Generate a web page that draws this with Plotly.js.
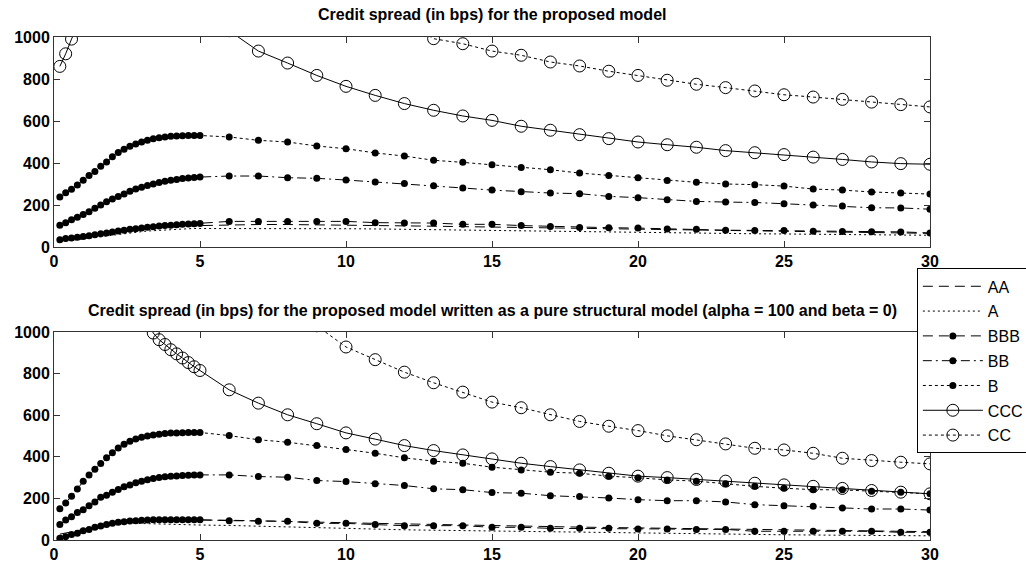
<!DOCTYPE html>
<html>
<head>
<meta charset="utf-8">
<script src="https://cdn.plot.ly/plotly-3.0.1.min.js"></script>
<style>
  html, body { margin: 0; padding: 0; background: #fff; }
  #chart { width: 1026px; height: 564px; }
</style>
</head>
<body>
<div id="chart"></div>
<script>
// Maturity grid (years): 0.2-year steps up to 5, then yearly to 30
const maturity = [0.2,0.4,0.6,0.8,1.0,1.2,1.4,1.6,1.8,2.0,2.2,2.4,2.6,2.8,3.0,3.2,3.4,3.6,3.8,4.0,4.2,4.4,4.6,4.8,5.0,
  6,7,8,9,10,11,12,13,14,15,16,17,18,19,20,21,22,23,24,25,26,27,28,29,30];

const ratings = ["AA", "A", "BBB", "BB", "B", "CCC", "CC"];

// Credit spreads (bps), proposed model
const propAA  = [30,34,38,42,46,50,54,58,62,66,70,74,78,81,84,87,90,92,94,96,98,99,100,101,102,
  106,107,107,106,105,103,101,99,97,95,93,91,89,87,85,83,81,79,77,75,73,71,69,67,65];
const propA   = [25,28,31,34,37,41,44,48,52,56,60,64,67,70,73,76,78,80,82,84,85,86,87,88,88,
  90,90,89,88,87,86,84,82,80,78,76,74,72,71,69,67,66,64,63,62,60,59,58,57,56];
const propBBB = [35,40,43,46,50,54,58,63,67,71,76,80,84,87,90,94,97,100,102,104,106,108,110,111,112,
  122,122,121,121,122,116,114,114,108,108,102,98,93,92,90,86,84,80,79,78,75,74,73,72,67];
const propBB  = [103,115,130,142,155,168,185,200,215,228,240,252,265,276,285,293,300,307,313,318,322,326,329,331,333,
  338,338,330,327,319,310,302,292,281,271,263,257,254,241,235,225,217,214,212,206,200,195,187,186,180];
const propB   = [238,258,275,295,318,340,360,385,405,430,450,465,480,490,500,508,515,520,524,527,529,530,531,531,531,
  524,508,500,481,468,448,433,413,403,392,378,368,352,341,330,317,308,300,297,290,276,271,262,257,252];
const propCCC = [860,920,990,1060,1120,1170,1210,1245,1270,1290,1305,1315,1320,1320,1315,1305,1295,1280,1265,1250,1235,1215,1195,1175,1155,
  1030,933,876,817,765,722,683,651,624,603,575,556,535,516,500,487,475,459,449,440,428,417,405,397,394];
const propCC  = [1300,1380,1460,1530,1590,1650,1700,1740,1780,1810,1840,1860,1880,1890,1900,1905,1905,1900,1895,1885,1875,1860,1845,1830,1810,
  1700,1550,1420,1310,1220,1150,1080,992,968,933,913,881,862,837,817,794,775,759,743,725,714,703,690,678,667];

// Credit spreads (bps), pure structural version (alpha = 100, beta = 0)
const structAA  = [28,33,38,44,50,56,62,68,74,79,84,88,91,93,95,96,97,97,97,97,97,97,97,97,97,
  95,92,90,86,83,80,77,74,71,68,66,64,62,60,58,56,54,52,50,48,47,46,44,42,40];
const structA   = [20,26,32,38,44,50,56,62,67,72,76,79,80,80,79,78,78,77,76,76,75,74,74,73,72,
  70,66,62,58,55,52,49,47,45,42,40,38,36,34,32,31,29,28,27,25,24,23,22,21,20];
const structBBB = [8,16,26,32,45,51,61,67,74,80,85,88,91,93,95,96,97,97,97,97,97,97,97,97,97,
  93,90,90,80,80,74,69,69,69,61,61,56,56,56,53,53,51,51,42,42,42,42,42,37,37];
const structBB  = [74,96,112,132,145,165,183,205,215,230,243,256,265,275,283,290,296,300,304,306,308,310,311,312,313,
  313,305,302,286,281,270,262,246,242,228,225,213,209,202,194,189,189,183,170,165,162,154,149,149,144];
const structB   = [150,178,210,245,282,312,340,368,395,420,442,460,475,486,494,500,505,509,512,514,515,516,517,517,517,
  502,482,470,454,435,417,395,379,369,350,337,326,321,307,299,289,283,270,258,249,242,241,234,230,222];
const structCCC = [2600,2450,2300,2150,2010,1890,1780,1680,1590,1500,1420,1340,1270,1200,1130,1060,995,963,940,915,895,875,853,833,815,
  722,658,602,559,515,485,454,430,409,390,369,353,337,321,307,300,291,283,273,265,258,248,238,230,222];
const structCC  = [3600,3500,3400,3300,3200,3100,3000,2900,2800,2700,2600,2500,2400,2300,2200,2100,2010,1930,1860,1790,1730,1670,1620,1570,1520,
  1340,1200,1090,1030,928,867,807,756,711,663,636,602,570,547,526,501,482,462,441,433,417,393,382,374,366];

const xTicks = [0, 5, 10, 15, 20, 25, 30];
const yTicks = [0, 200, 400, 600, 800, 1000];
const yMax = 1000;

const titleTop = "Credit spread (in bps) for the proposed model";
const titleBottom = "Credit spread (in bps) for the proposed model written as a pure structural model (alpha = 100 and beta = 0)";

// Line style per rating
const styles = {
  AA:  { dash: "10px,6px", marker: null },
  A:   { dash: "2px,3px",  marker: null },
  BBB: { dash: "10px,6px", marker: "dot" },
  BB:  { dash: "9px,4px,2px,4px", marker: "dot" },
  B:   { dash: "3px,3px",  marker: "dot" },
  CCC: { dash: "solid",    marker: "ring" },
  CC:  { dash: "3px,3px",  marker: "ring" }
};

const propSeries = [propAA, propA, propBBB, propBB, propB, propCCC, propCC];
const structSeries = [structAA, structA, structBBB, structBB, structB, structCCC, structCC];

function makeTrace(name, values, xa, ya, showLegend) {
  const st = styles[name];
  const tr = {
    type: "scatter",
    x: maturity,
    y: values,
    name: name,
    xaxis: xa,
    yaxis: ya,
    legendgroup: name,
    showlegend: showLegend,
    cliponaxis: true,
    line: { color: "#000", width: 1, dash: st.dash },
    hoverinfo: "x+y+name"
  };
  if (st.marker === "dot") {
    tr.mode = "lines+markers";
    tr.marker = { symbol: "circle", size: 7, color: "#000" };
  } else if (st.marker === "ring") {
    tr.mode = "lines+markers";
    tr.marker = { symbol: "circle-open", size: 12, color: "#000", line: { color: "#000", width: 1 } };
  } else {
    tr.mode = "lines";
  }
  return tr;
}

const traces = [];
ratings.forEach((r, i) => traces.push(makeTrace(r, propSeries[i], "x", "y", true)));
ratings.forEach((r, i) => traces.push(makeTrace(r, structSeries[i], "x2", "y2", false)));

const tickFont = { family: "Liberation Sans, Arial, sans-serif", size: 16, color: "#000", weight: "bold" };

function xAxis(anchor) {
  return {
    domain: [0, 1], anchor: anchor, range: [0, 30],
    tickvals: xTicks, ticktext: xTicks.map(String),
    ticks: "inside", ticklen: 6, tickcolor: "#333", tickwidth: 1,
    showline: true, linecolor: "#333", linewidth: 1, mirror: "ticks",
    showgrid: false, zeroline: false, tickfont: tickFont
  };
}
function yAxis(anchor, domain) {
  return {
    domain: domain, anchor: anchor, range: [0, yMax],
    tickvals: yTicks, ticktext: yTicks.map(String),
    ticks: "inside", ticklen: 6, tickcolor: "#333", tickwidth: 1,
    showline: true, linecolor: "#333", linewidth: 1, mirror: "ticks",
    showgrid: false, zeroline: false, tickfont: tickFont
  };
}

const titleFont = { family: "Liberation Sans, Arial, sans-serif", size: 16, color: "#000", weight: "bold" };

const layout = {
  width: 1026, height: 564,
  paper_bgcolor: "#fff", plot_bgcolor: "#fff",
  margin: { l: 54, r: 96, t: 37, b: 24, autoexpand: false },
  xaxis: xAxis("y"),
  yaxis: yAxis("x", [0.5825, 1]),
  xaxis2: xAxis("y2"),
  yaxis2: yAxis("x2", [0, 0.4135]),
  showlegend: true,
  legend: {
    x: 0.985, xanchor: "left", y: 0.54, yanchor: "top",
    bgcolor: "#fff", bordercolor: "#000", borderwidth: 1,
    font: { family: "Liberation Sans, Arial, sans-serif", size: 16, color: "#000" },
    tracegroupgap: 1, itemwidth: 60, entrywidth: 125, entrywidthmode: "pixels",
    traceorder: "grouped"
  },
  annotations: [
    { text: titleTop, xref: "paper", yref: "paper", x: 0.5, y: 1.0457, xanchor: "center", yanchor: "middle",
      showarrow: false, font: titleFont },
    { text: titleBottom, xref: "paper", yref: "paper", x: 0.5, y: 0.457, xanchor: "center", yanchor: "middle",
      showarrow: false, font: titleFont }
  ]
};

Plotly.newPlot("chart", traces, layout, { displayModeBar: false, staticPlot: true });
</script>
</body>
</html>
